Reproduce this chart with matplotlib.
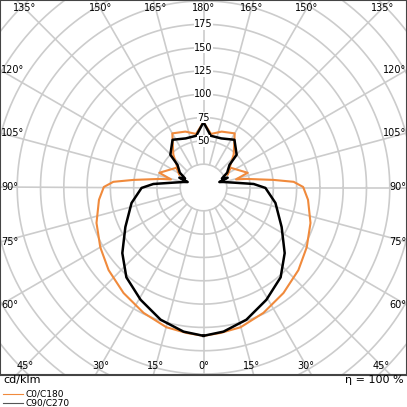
import numpy as np
import matplotlib
matplotlib.use("Agg")
import matplotlib.pyplot as plt

# C0/C180 (orange) and C90/C270 (black), gamma angles 0..180 (one half, mirrored)
c0_ang = [0, 6.7, 14.9, 25.6, 37.2, 49, 60, 71.7, 83.3, 90.3, 93.6, 96.2, 101.3, 104, 108.4,
          126, 117.7, 137.5, 150, 162, 172, 180]
c0_val = [159, 157, 155, 149, 142, 135, 128, 121, 113, 107, 97, 75.5, 47, 36, 50,
          36, 29, 48, 67, 63, 58, 70]
c90_ang = [0, 7.9, 18, 29.3, 40.7, 51.1, 63.2, 77.9, 89.6, 94, 98, 105.6, 109, 112, 116,
           122, 131, 134.6, 147, 160, 172, 180]
c90_val = [159, 156, 149, 138, 127, 112, 94, 79, 66.5, 54, 36, 22, 18, 28, 22,
           30, 37, 50, 61, 56, 56, 70]
ring_labels = [50, 75, 100, 125, 150, 175]
angle_labels = [0, 15, 30, 45, 60, 75, 90, 105, 120, 135, 150, 165, 180]

fig = plt.figure(figsize=(4.07, 4.07), dpi=100)
ax = fig.add_axes([0, 1 - 375 / 407, 1, 375 / 407])
XL, YL = 218.5, 201
ax.set_xlim(-XL, XL)
ax.set_ylim(-YL, YL)
ax.set_xticks([]); ax.set_yticks([])
for s in ax.spines.values():
    s.set_color('#444444'); s.set_linewidth(1.5)

gc = '#cccccc'
t = np.linspace(0, 2 * np.pi, 400)
for r in range(25, 326, 25):
    ax.plot(r * np.cos(t), r * np.sin(t), color=gc, lw=1.2, zorder=1)
for a in range(0, 360, 15):
    th = np.radians(a)
    ax.plot([25 * np.sin(th), 400 * np.sin(th)], [-25 * np.cos(th), -400 * np.cos(th)],
            color=gc, lw=1.2, zorder=1)

def curve(ang, val):
    ang = np.array(ang, float); val = np.array(val, float)
    full_a = np.concatenate([ang, 360 - ang[::-1]])
    full_v = np.concatenate([val, val[::-1]])
    th = np.radians(full_a)
    return full_v * np.sin(th), -full_v * np.cos(th)

x, y = curve(c0_ang, c0_val)
ax.plot(x, y, color='#f08a3c', lw=1.5, zorder=3, solid_joinstyle='round')
x, y = curve(c90_ang, c90_val)
ax.plot(x, y, color='black', lw=1.8, zorder=4, solid_joinstyle='round')

for v in ring_labels:
    ax.text(0, v, str(v), ha='center', va='center', fontsize=7, zorder=5,
            bbox=dict(facecolor='white', edgecolor='none', pad=0.5))

for a in angle_labels:
    for side in (-1, 1):
        if a in (0, 180) and side == 1:
            continue
        th = np.radians(a)
        dx, dy = np.sin(th) * side, -np.cos(th)
        yb = -(YL - 10) if dy < 0 else (YL - 9)
        xb = dx * yb / dy if abs(dy) > 1e-9 else 1e9
        if abs(xb) <= XL - 12:
            ax.text(xb, yb, f"{a}°", ha='center', va='center', fontsize=7, zorder=5)
        else:
            xe = side * (XL - 1)
            ye = dy * XL / abs(dx)
            ax.text(xe, ye, f"{a}°", ha='left' if side < 0 else 'right', va='center',
                    fontsize=7, zorder=5)

fig.text(3 / 407, 1 - 380 / 407, "cd/klm", fontsize=8, va='center', ha='left')
fig.text(404 / 407, 1 - 380 / 407, "η = 100 %", fontsize=8, va='center', ha='right')
fig.add_artist(plt.Line2D([3 / 407, 23 / 407], [1 - 394 / 407] * 2, color='#f08a3c', lw=0.8))
fig.add_artist(plt.Line2D([3 / 407, 23 / 407], [1 - 403 / 407] * 2, color='#555555', lw=0.8))
fig.text(26 / 407, 1 - 394 / 407, "C0/C180", fontsize=6.5, va='center')
fig.text(26 / 407, 1 - 403 / 407, "C90/C270", fontsize=6.5, va='center')

fig.savefig("out.png", dpi=100)
